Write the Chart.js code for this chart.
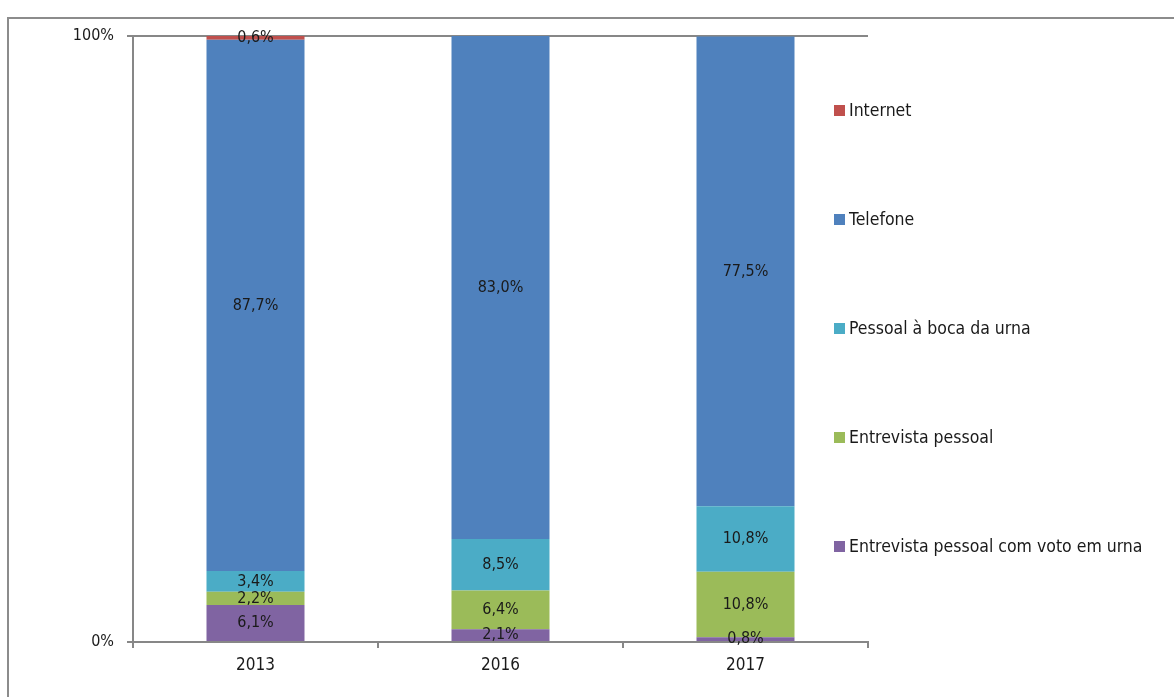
<!DOCTYPE html>
<html>
<head>
<meta charset="utf-8">
<script src="https://cdn.jsdelivr.net/npm/chart.js@4"></script>
<style>
    html, body { margin: 0; padding: 0; background: #fff; }
    #wrap { position: relative; width: 1174px; height: 697px; overflow: hidden; }
    #frame {
        position: absolute; left: 7px; top: 17px; width: 1200px; height: 700px;
        border: 2px solid #8c8c8c; pointer-events: none;
    }
</style>
</head>
<body>
<div id="wrap">
    <canvas id="chart" width="1174" height="697"></canvas>
    <div id="frame"></div>
</div>
<script>
// Data (percent of interviews per method)
const years = ['2013', '2016', '2017'];
const internet = [0.6, null, null];
const telefone = [87.7, 83.0, 77.5];
const bocaUrna = [3.4, 8.5, 10.8];
const entrevistaPessoal = [2.2, 6.4, 10.8];
const votoUrna = [6.1, 2.1, 0.8];
const yTicks = [0, 100];

const fontFamily = '"DejaVu Sans Condensed", "DejaVu Sans", sans-serif';
const axisColor = '#878787';
const textColor = '#1a1a1a';

// Bottom of the stack first
const series = [
    { label: 'Entrevista pessoal com voto em urna', data: votoUrna, color: '#8064A2' },
    { label: 'Entrevista pessoal', data: entrevistaPessoal, color: '#9BBB59' },
    { label: 'Pessoal à boca da urna', data: bocaUrna, color: '#4BACC6' },
    { label: 'Telefone', data: telefone, color: '#4F81BD' },
    { label: 'Internet', data: internet, color: '#C0504D' }
];

const formatPct = v => v.toFixed(1).replace('.', ',') + '%';

// Value labels in the middle of each segment
const segmentLabels = {
    id: 'segmentLabels',
    afterDatasetsDraw(chart) {
        const ctx = chart.ctx;
        ctx.save();
        ctx.font = '16px ' + fontFamily;
        ctx.fillStyle = textColor;
        ctx.textAlign = 'center';
        ctx.textBaseline = 'middle';
        chart.data.datasets.forEach((ds, i) => {
            const meta = chart.getDatasetMeta(i);
            meta.data.forEach((bar, j) => {
                const v = ds.data[j];
                if (v == null) return;
                ctx.fillText(formatPct(v), bar.x, (bar.y + bar.base) / 2);
            });
        });
        ctx.restore();
    }
};

// Excel-style legend on the right, widely spaced, top series first
const sideLegend = {
    id: 'sideLegend',
    afterDraw(chart) {
        const ctx = chart.ctx;
        const area = chart.chartArea;
        const x = area.right - 34;
        const step = 109;
        let y = area.top + 75;
        ctx.save();
        ctx.font = '17.5px ' + fontFamily;
        ctx.textBaseline = 'middle';
        ctx.textAlign = 'left';
        const items = chart.data.datasets.slice().reverse();
        items.forEach(ds => {
            ctx.fillStyle = ds.backgroundColor;
            ctx.fillRect(x, y - 6, 11, 11);
            ctx.fillStyle = textColor;
            ctx.fillText(ds.label, x + 15, y);
            y += step;
        });
        ctx.restore();
    }
};

new Chart(document.getElementById('chart'), {
    type: 'bar',
    data: {
        labels: years,
        datasets: series.map(s => ({
            label: s.label,
            data: s.data,
            backgroundColor: s.color,
            borderWidth: 0,
            barPercentage: 0.4,
            categoryPercentage: 1.0
        }))
    },
    options: {
        responsive: false,
        animation: false,
        layout: { padding: { left: 0, top: 36, right: 306, bottom: 0 } },
        plugins: {
            legend: { display: false },
            tooltip: { enabled: false }
        },
        scales: {
            x: {
                stacked: true,
                afterFit: scale => { scale.height = 55; },
                border: { color: axisColor, width: 2 },
                grid: {
                    offset: true,
                    drawOnChartArea: false,
                    drawTicks: true,
                    tickLength: 6,
                    color: axisColor,
                    lineWidth: 2
                },
                ticks: {
                    padding: 7,
                    color: textColor,
                    font: { family: fontFamily, size: 17 }
                }
            },
            y: {
                stacked: true,
                min: yTicks[0],
                max: yTicks[yTicks.length - 1],
                afterFit: scale => { scale.width = 133; },
                afterBuildTicks: scale => { scale.ticks = yTicks.map(v => ({ value: v })); },
                border: { color: axisColor, width: 2 },
                grid: {
                    color: axisColor,
                    lineWidth: 2,
                    tickLength: 6
                },
                ticks: {
                    padding: 13,
                    color: textColor,
                    font: { family: fontFamily, size: 16 },
                    callback: v => v + '%'
                }
            }
        }
    },
    plugins: [segmentLabels, sideLegend]
});
</script>
</body>
</html>
